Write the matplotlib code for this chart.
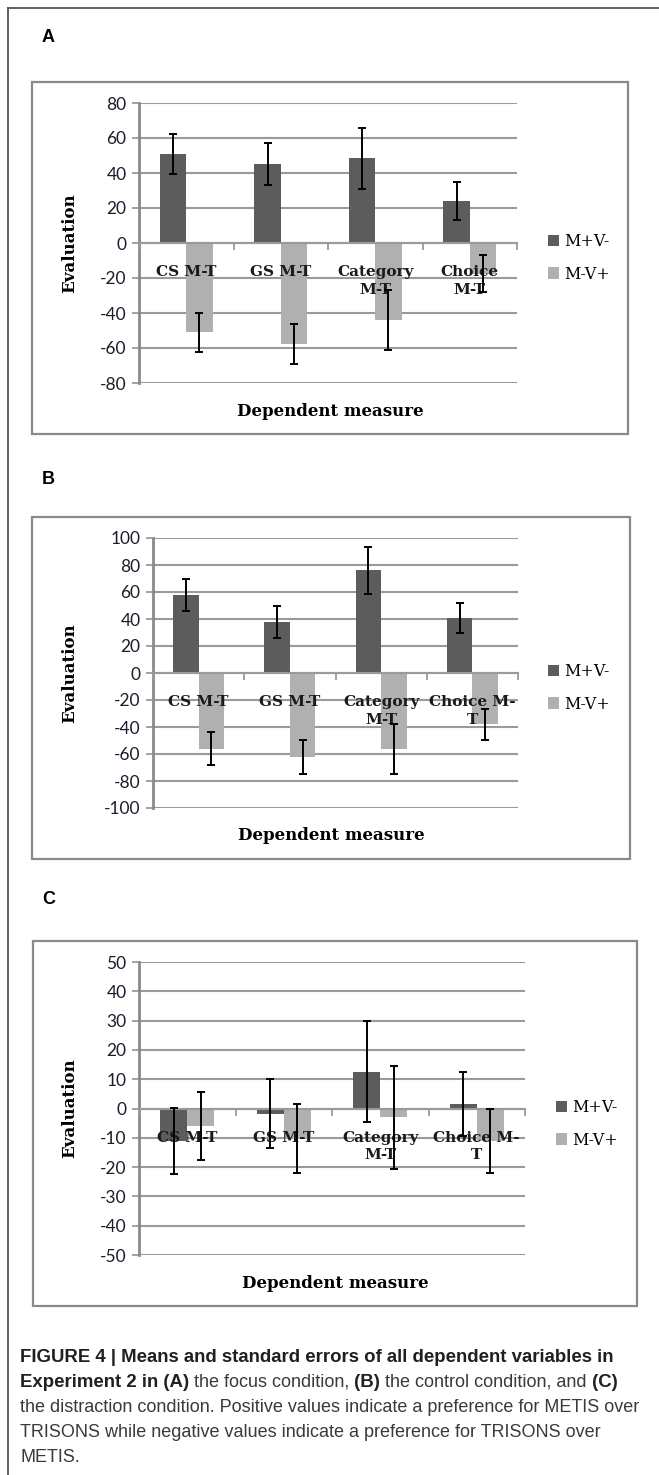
import numpy as np
import matplotlib
matplotlib.use("Agg")
import matplotlib.pyplot as plt
from matplotlib.patches import Rectangle, Patch
from matplotlib.lines import Line2D

plt.rcParams['axes.unicode_minus'] = False

# data
series = ["M+V-", "M-V+"]
cats_a = ["CS M-T", "GS M-T", "Category\nM-T", "Choice\nM-T"]
cats_bc = ["CS M-T", "GS M-T", "Category\nM-T", "Choice M-\nT"]

a_pos = [51, 45, 48.5, 24]
a_pos_err = [11.5, 12, 17.5, 11]
a_neg = [-51, -57.5, -44, -17.5]
a_neg_err = [11, 11.5, 17, 10.5]

b_pos = [58, 38, 76, 41]
b_pos_err = [12, 12, 17.5, 11]
b_neg = [-56, -62, -56, -38]
b_neg_err = [12, 12.5, 18.5, 11.5]

c_pos = [-11, -1.8, 12.5, 1.5]
c_pos_err = [11.3, 11.8, 17.2, 10.8]
c_neg = [-6, -10.3, -3, -11]
c_neg_err = [11.7, 11.8, 17.5, 11]

yticks_a = list(range(-80, 81, 20))
yticks_b = list(range(-100, 101, 20))
yticks_c = list(range(-50, 51, 10))

W, H = 659, 1475
fig = plt.figure(figsize=(W / 100, H / 100), dpi=100)

DARK = "#5c5c5c"
LIGHT = "#b0b0b0"
GRID = "#9a9a9a"
SERIF = "DejaVu Serif"


def fx(x):
    return x / W


def fy(y):
    return 1 - y / H


def panel(letter, label_y, box, plot, cats, pos, pos_err, neg, neg_err, yticks, leg_x, leg_y):
    fig.text(fx(42), fy(label_y), letter, family="Liberation Sans", weight="bold",
             fontsize=13, va="center", ha="left")
    x0, y0, x1, y1 = box
    fig.add_artist(Rectangle((fx(x0), fy(y1)), fx(x1 - x0), (y1 - y0) / H,
                             transform=fig.transFigure, fill=False,
                             edgecolor="#8a8a8a", lw=1.6))
    px0, py0, px1, py1 = plot
    ax = fig.add_axes([fx(px0), fy(py1), fx(px1 - px0), (py1 - py0) / H])

    # spine position first: it resets the ticks
    for s in ["top", "right"]:
        ax.spines[s].set_visible(False)
    ax.spines["bottom"].set_position(("data", 0))
    ax.spines["bottom"].set_color(GRID)
    ax.spines["bottom"].set_linewidth(1.5)
    ax.spines["left"].set_color("#8a8a8a")
    ax.spines["left"].set_linewidth(2)
    ax.set_facecolor("none")

    x = np.arange(len(cats))
    w = 0.28
    ax.bar(x - w / 2, pos, w, color=DARK, zorder=2, label=series[0])
    ax.bar(x + w / 2, neg, w, color=LIGHT, zorder=2, label=series[1])
    ax.errorbar(x - w / 2, pos, yerr=pos_err, fmt="none", ecolor="black",
                elinewidth=1.4, capsize=3, capthick=1.4, zorder=4)
    ax.errorbar(x + w / 2, neg, yerr=neg_err, fmt="none", ecolor="black",
                elinewidth=1.4, capsize=3, capthick=1.4, zorder=4)

    ax.set_xlim(-0.5, len(cats) - 0.5)
    ax.set_ylim(yticks[0], yticks[-1])
    ax.set_yticks(yticks)
    ax.set_yticklabels([str(t) for t in yticks], family="Lato", fontsize=12.5,
                       color="#1c1c2c")
    ax.tick_params(axis="y", direction="out", length=5, width=1.3, color=GRID, pad=4)
    ax.yaxis.grid(True, color=GRID, lw=1.5)
    ax.yaxis.set_zorder(0.5)

    ax.set_xticks(x)
    ax.set_xticklabels(cats, family=SERIF, weight="bold", fontsize=11,
                       linespacing=1.3, color="#1a1a1a")
    ax.set_xticks(np.arange(-0.5, len(cats)), minor=True)
    ax.tick_params(axis="x", which="major", length=0, pad=16)
    ax.tick_params(axis="x", which="minor", direction="out", length=5,
                   width=1.3, color=GRID)
    ax.xaxis.set_zorder(3)

    fig.text(fx(70), fy((py0 + py1) / 2), "Evaluation", rotation=90, family=SERIF,
             weight="bold", fontsize=12, ha="center", va="center")
    fig.text(fx((x0 + x1) / 2), fy(y1 - 23), "Dependent measure", family=SERIF,
             weight="bold", fontsize=12, ha="center", va="center")

    handles = [Patch(facecolor=DARK), Patch(facecolor=LIGHT)]
    fig.legend(handles, series, loc="center left",
               bbox_to_anchor=(fx(leg_x), fy(leg_y)), bbox_transform=fig.transFigure,
               frameon=False, borderpad=0, borderaxespad=0, handlelength=0.7,
               handleheight=0.7, handletextpad=0.3, labelspacing=0.95,
               prop={"family": SERIF, "size": 11.5})
    return ax


panel("A", 37, (32, 82, 628, 434), (139, 103, 517, 383), cats_a,
      a_pos, a_pos_err, a_neg, a_neg_err, yticks_a, 548, 258)
panel("B", 479, (32, 517, 630, 859), (153, 538, 518, 808), cats_bc,
      b_pos, b_pos_err, b_neg, b_neg_err, yticks_b, 548, 688)
panel("C", 899, (33, 941, 637, 1306), (139, 962, 525, 1255), cats_bc,
      c_pos, c_pos_err, c_neg, c_neg_err, yticks_c, 556, 1124)

# outer frame (top and left rules)
fig.add_artist(Line2D([fx(8), 1], [fy(8), fy(8)], transform=fig.transFigure,
                      color="#555555", lw=1.3))
fig.add_artist(Line2D([fx(8), fx(8)], [fy(8), 0], transform=fig.transFigure,
                      color="#555555", lw=1.3))

# caption, bold and regular pieces chained along each line
caption = [
    [("FIGURE 4 | Means and standard errors of all dependent variables in", True)],
    [("Experiment 2 in (A)", True), (" the focus condition,", False), (" (B)", True),
     (" the control condition, and", False), (" (C)", True)],
    [("the distraction condition. Positive values indicate a preference for METIS over", False)],
    [("TRISONS while negative values indicate a preference for TRISONS over", False)],
    [("METIS.", False)],
]
for i, pieces in enumerate(caption):
    y = 1357 + i * 25.2
    prev = None
    for txt, bold in pieces:
        kw = dict(family="Liberation Sans", fontsize=13.4 if bold else 13.0,
                  weight="bold" if bold else "normal",
                  color="#231f20" if bold else "#3a3a3a", ha="left")
        if prev is None:
            prev = fig.text(fx(20), fy(y), txt, va="center", **kw)
        else:
            prev = fig.axes[-1].annotate(txt, xy=(1, 0), xycoords=prev,
                                         va="bottom", annotation_clip=False, **kw)

fig.savefig("out.png", dpi=100)
